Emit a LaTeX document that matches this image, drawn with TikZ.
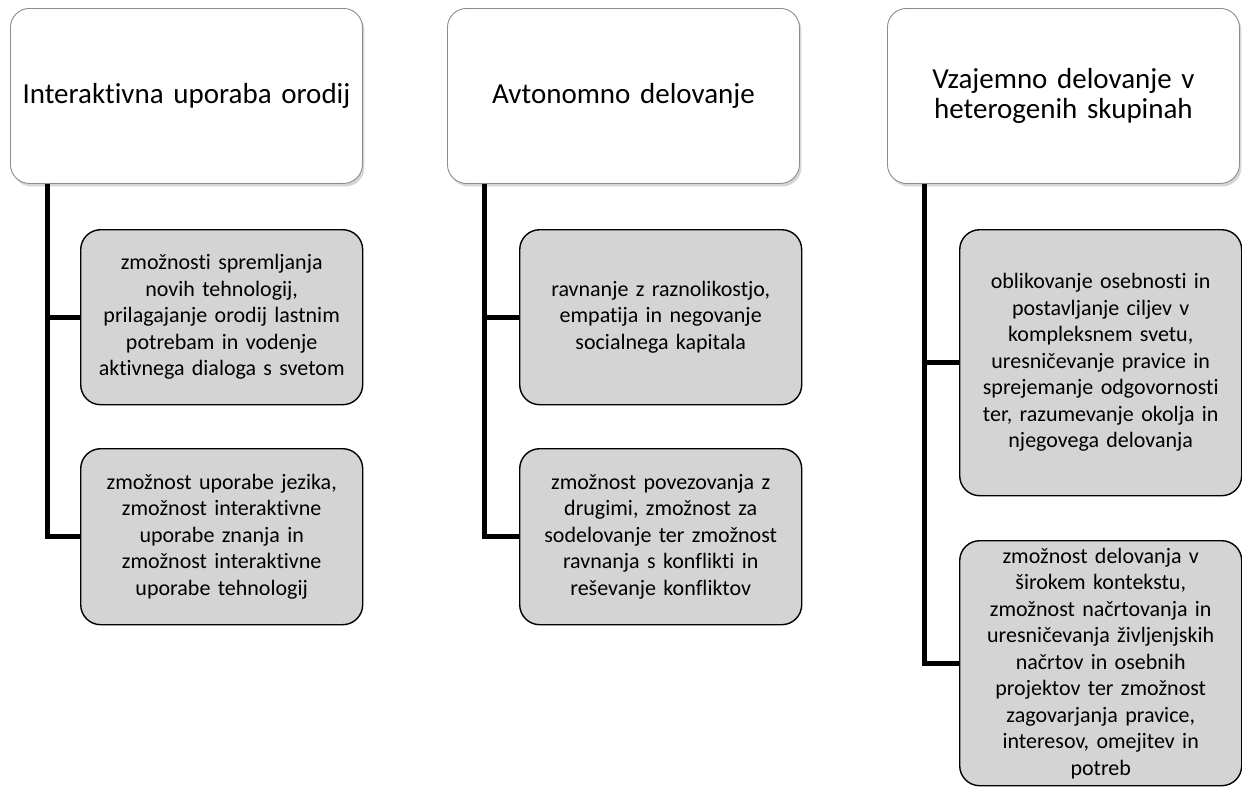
\documentclass[tikz,border=0pt]{standalone}
\usepackage{fontspec}
\setmainfont{Carlito}[Ligatures={NoCommon,NoContextual}, RawFeature={-liga;-clig;-dlig}]
\usetikzlibrary{shadows,calc}

\tikzset{
  x=1pt, y=-1pt,
  headbox/.style={draw=black!45, line width=0.9pt, fill=white,
    rounded corners=19pt, anchor=north west, align=center,
    minimum width=352pt, minimum height=175pt, text width=330pt,
    inner sep=0pt,
    drop shadow={shadow xshift=2pt, shadow yshift=-3pt, opacity=0.3, fill=black!55},
    font=\fontsize{29}{29.5}\selectfont},
  itembox/.style={draw=black, line width=1.4pt, fill=black!17,
    rounded corners=20pt, anchor=north west, align=center,
    minimum width=282pt, text width=270pt, inner sep=0pt,
    font=\fontsize{22}{26.5}\selectfont},
  branch/.style={draw=black, line width=5pt}
}

\begin{document}
\begin{tikzpicture}
\useasboundingbox (0,0) rectangle (1242,787);

% column headings
\node[headbox] (t1) at (10,8)  {Interaktivna uporaba orodij};
\node[headbox] (t2) at (447,8) {Avtonomno delovanje};
\node[headbox] (t3) at (887,8) {Vzajemno delovanje v\\heterogenih skupinah};

% first column
\node[itembox, minimum height=175pt] (c11) at (80,229)
  {zmožnosti spremljanja\\novih tehnologij,\\prilagajanje orodij lastnim\\potrebam in vodenje\\aktivnega dialoga s svetom};
\node[itembox, minimum height=176pt] (c12) at (80,448)
  {zmožnost uporabe jezika,\\zmožnost interaktivne\\uporabe znanja in\\zmožnost interaktivne\\uporabe tehnologij};

% second column
\node[itembox, minimum height=175pt] (c21) at (519,229)
  {ravnanje z raznolikostjo,\\empatija in negovanje\\socialnega kapitala};
\node[itembox, minimum height=176pt] (c22) at (519,448)
  {zmožnost povezovanja z\\drugimi, zmožnost za\\sodelovanje ter zmožnost\\ravnanja s konflikti in\\reševanje konfliktov};

% third column
\node[itembox, minimum height=266pt] (c31) at (959,229)
  {oblikovanje osebnosti in\\postavljanje ciljev v\\kompleksnem svetu,\\uresničevanje pravice in\\sprejemanje odgovornosti\\ter, razumevanje okolja in\\njegovega delovanja};
\node[itembox, minimum height=245pt] (c32) at (959,540)
  {zmožnost delovanja v\\širokem kontekstu,\\zmožnost načrtovanja in\\uresničevanja življenjskih\\načrtov in osebnih\\projektov ter zmožnost\\zagovarjanja pravice,\\interesov, omejitev in\\potreb};

% connectors from each heading to its items
\foreach \t/\a/\b in {t1/c11/c12, t2/c21/c22, t3/c31/c32} {
  \coordinate (\t-root) at ([xshift=37pt]\t.south west);
  \draw[branch] (\t-root) |- (\a.west);
  \draw[branch] (\t-root) |- (\b.west);
}
\end{tikzpicture}
\end{document}
